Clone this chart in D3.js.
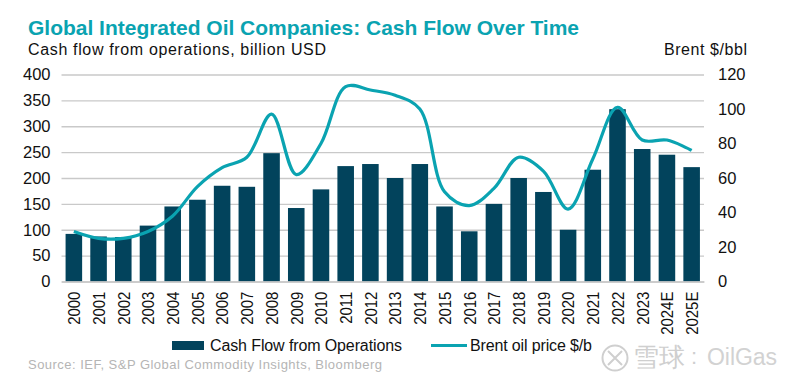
<!DOCTYPE html>
<html>
<head>
<meta charset="utf-8">
<script src="https://cdnjs.cloudflare.com/ajax/libs/d3/7.8.5/d3.min.js"></script>
<style>
  html, body { margin: 0; padding: 0; background: #fff; }
  text { font-family: "Liberation Sans", Arial, sans-serif; }
</style>
</head>
<body>
<div id="chart"></div>
<script>
// values
var years = ["2000", "2001", "2002", "2003", "2004", "2005", "2006", "2007", "2008", "2009", "2010", "2011", "2012",
    "2013", "2014", "2015", "2016", "2017", "2018", "2019", "2020", "2021", "2022", "2023", "2024E", "2025E"];
var cashFlow = [92, 87, 86, 108, 145, 158, 185, 183, 248, 142, 178, 223, 227,
    200, 227, 145, 97, 150, 200, 173, 100, 216, 333, 256, 245, 221];
var brent = [29, 25, 25, 29, 38, 55, 66, 72, 97, 62, 80, 113, 111,
    108, 100, 52, 44, 54, 72, 64, 42, 71, 101, 82, 82, 76];
var leftTicks = [0, 50, 100, 150, 200, 250, 300, 350, 400];
var rightTicks = [0, 20, 40, 60, 80, 100, 120];

var width = 800;
var height = 382;
var margin = ({ top: 74.5, right: 96, bottom: 100.5, left: 61.5 });

var navy = "#02435C";
var teal = "#0AA3B1";

var x = d3.scaleBand().domain(years).range([margin.left, width - margin.right]).paddingInner(0.33).paddingOuter(0.165);
var yLeft = d3.scaleLinear([0, 400], [height - margin.bottom, margin.top]);
var yRight = d3.scaleLinear([0, 120], [height - margin.bottom, margin.top]);

const svg = d3.select("#chart")
    .append("svg")
    .attr("width", width)
    .attr("height", height)
    .style("display", "block");

// Gridlines first so that the bars sit on top of them
svg.append("g")
    .attr("transform", `translate(${margin.left}, 0)`)
    .call(d3.axisLeft(yLeft).tickValues(leftTicks).tickSize(-(width - margin.left - margin.right)).tickPadding(11))
    .call(g => g.select(".domain").remove())
    .call(g => g.selectAll("line").attr("stroke", "#C9C9C9").attr("stroke-width", 1.3))
    .call(g => g.selectAll("text").attr("font-size", 16.5).attr("fill", "#111").attr("font-family", "Liberation Sans"));

// Right axis only has labels
svg.append("g")
    .attr("transform", `translate(${width - margin.right}, 0)`)
    .call(d3.axisRight(yRight).tickValues(rightTicks).tickSize(0).tickPadding(14))
    .call(g => g.select(".domain").remove())
    .call(g => g.selectAll("text").attr("font-size", 16.5).attr("fill", "#111").attr("font-family", "Liberation Sans"));

svg.append("g")
    .selectAll("rect")
    .data(years)
    .join("rect")
    .attr("fill", navy)
    .attr("x", d => x(d))
    .attr("y", (d, i) => yLeft(cashFlow[i]))
    .attr("width", x.bandwidth())
    .attr("height", (d, i) => yLeft(0) - yLeft(cashFlow[i]));

// Bottom axis, the year labels are tall and squeezed along their length in the original
svg.append("g")
    .attr("transform", `translate(0, ${height - margin.bottom})`)
    .call(d3.axisBottom(x).tickSize(0))
    .call(g => g.select(".domain").attr("stroke", "#C9C9C9").attr("stroke-width", 1.3))
    .call(g => g.selectAll("text")
        .attr("font-size", 17)
        .attr("fill", "#111")
        .attr("font-family", "Liberation Sans")
        .attr("text-anchor", "end")
        .attr("dominant-baseline", "central")
        .attr("transform", "rotate(-90) scale(0.88, 1)")
        .attr("x", -11.5)
        .attr("y", 0.5)
        .attr("dy", 0));

var line = d3.line()
    .x((d, i) => x(years[i]) + x.bandwidth() / 2)
    .y(d => yRight(d))
    .curve(d3.curveCatmullRom.alpha(0.5));

svg.append("path")
    .datum(brent)
    .attr("fill", "none")
    .attr("stroke", teal)
    .attr("stroke-width", 3.2)
    .attr("d", line);

// Titles
svg.append("text")
    .attr("x", 28).attr("y", 34.5)
    .attr("font-size", 21).attr("font-weight", "bold")
    .attr("fill", teal)
    .attr("textLength", 551)
    .text("Global Integrated Oil Companies: Cash Flow Over Time");
svg.append("text")
    .attr("x", 28).attr("y", 55)
    .attr("font-size", 16).attr("fill", "#111")
    .attr("textLength", 298)
    .text("Cash flow from operations, billion USD");
svg.append("text")
    .attr("x", 664).attr("y", 55)
    .attr("font-size", 16).attr("fill", "#111")
    .attr("textLength", 83)
    .text("Brent $/bbl");

// Legend
svg.append("rect").attr("x", 172).attr("y", 341).attr("width", 32).attr("height", 9).attr("fill", navy);
svg.append("text").attr("x", 210).attr("y", 350.5).attr("font-size", 16).attr("fill", "#111")
    .attr("textLength", 192).text("Cash Flow from Operations");
svg.append("line").attr("x1", 431).attr("x2", 467).attr("y1", 345.5).attr("y2", 345.5).attr("stroke", teal).attr("stroke-width", 3.2);
svg.append("text").attr("x", 470).attr("y", 350.5).attr("font-size", 16).attr("fill", "#111")
    .attr("textLength", 122).text("Brent oil price $/b");

// Source line
svg.append("text")
    .attr("x", 28).attr("y", 369)
    .attr("font-size", 13).attr("fill", "#B5B5B5")
    .attr("textLength", 354)
    .text("Source: IEF, S&P Global Commodity Insights, Bloomberg");

// Watermark
var mark = svg.append("g").attr("fill", "none").attr("stroke", "#CFCFCF");
mark.append("circle").attr("cx", 615).attr("cy", 358).attr("r", 12.5).attr("stroke-width", 2);
mark.append("path").attr("d", "M608 351 L622 365 M622 351 L608 365").attr("stroke-width", 2);
svg.append("text")
    .attr("x", 633).attr("y", 366)
    .attr("font-size", 26).attr("fill", "#CFCFCF")
    .attr("font-family", "Noto Sans CJK SC")
    .text("雪球");
svg.append("text")
    .attr("x", 691).attr("y", 364)
    .attr("font-size", 22).attr("fill", "#CFCFCF")
    .text(":");
svg.append("text")
    .attr("x", 707).attr("y", 365)
    .attr("font-size", 23).attr("fill", "#D2D2D2")
    .attr("textLength", 70)
    .text("OilGas");
</script>
</body>
</html>
